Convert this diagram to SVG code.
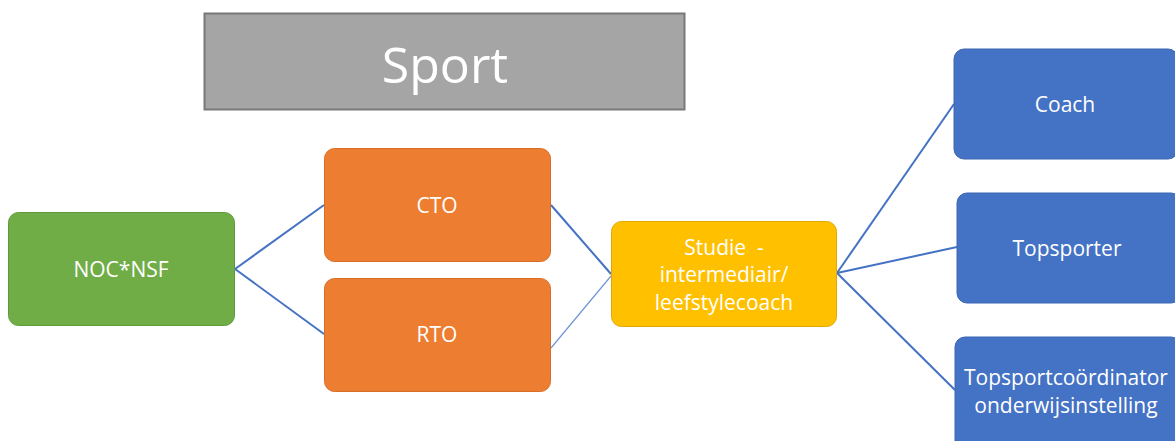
<svg xmlns="http://www.w3.org/2000/svg" width="1175" height="441" viewBox="0 0 1175 441">
<style>
  text { font-family: "Open Sans", "Noto Sans", "Liberation Sans", sans-serif; fill: #ffffff; text-anchor: middle; }
  .lbl { font-size: 21px; }
  .title { font-size: 50px; }
  .con { stroke: #4472c4; stroke-width: 2; fill: none; }
  .thin { stroke: #6f94d6; stroke-width: 1.2; fill: none; }
  .green { fill: #70ad47; stroke: #5f9a3a; stroke-width: 1; }
  .orange { fill: #ed7d31; stroke: #d86e25; stroke-width: 1; }
  .yellow { fill: #ffc000; stroke: #e0a800; stroke-width: 1; }
  .blue { fill: #4472c4; stroke: #3c66b2; stroke-width: 1; }
</style>
<rect width="1175" height="441" fill="#ffffff"/>
<g id="connectors">
  <line class="con" x1="235" y1="269" x2="324" y2="205"/>
  <line class="con" x1="235" y1="269" x2="324" y2="334"/>
  <line class="con" x1="551" y1="205" x2="611" y2="274"/>
  <line class="thin" x1="551" y1="348" x2="611" y2="276"/>
  <line class="con" x1="837" y1="273" x2="954" y2="104"/>
  <line class="con" x1="837" y1="273" x2="957" y2="247"/>
  <line class="con" x1="837" y1="273" x2="955" y2="390"/>
</g>
<g id="sport">
  <rect x="204.5" y="13.5" width="480" height="96" fill="#a5a5a5" stroke="#787878" stroke-width="2"/>
  <text class="title" x="445" y="83">Sport</text>
</g>
<g id="noc">
  <rect class="green" x="8.5" y="212.5" width="226" height="113" rx="10"/>
  <text class="lbl" x="121" y="277">NOC*NSF</text>
</g>
<g id="cto">
  <rect class="orange" x="324.5" y="148.5" width="226" height="113" rx="10"/>
  <text class="lbl" x="437" y="213">CTO</text>
</g>
<g id="rto">
  <rect class="orange" x="324.5" y="278.5" width="226" height="113" rx="10"/>
  <text class="lbl" x="437" y="342">RTO</text>
</g>
<g id="studie">
  <rect class="yellow" x="611.5" y="221.5" width="225" height="105" rx="10"/>
  <text class="lbl" x="724" y="255">Studie&#160; -</text>
  <text class="lbl" x="724" y="282">intermediair/</text>
  <text class="lbl" x="724" y="310">leefstylecoach</text>
</g>
<g id="coach">
  <rect class="blue" x="954" y="49" width="224" height="110" rx="10"/>
  <text class="lbl" x="1065" y="112">Coach</text>
</g>
<g id="topsporter">
  <rect class="blue" x="957" y="193" width="224" height="110" rx="10"/>
  <text class="lbl" x="1067" y="256">Topsporter</text>
</g>
<g id="coordinator">
  <rect class="blue" x="955" y="337" width="226" height="115" rx="10"/>
  <text class="lbl" x="1066" y="385">Topsportcoördinator</text>
  <text class="lbl" x="1066" y="413">onderwijsinstelling</text>
</g>
</svg>
